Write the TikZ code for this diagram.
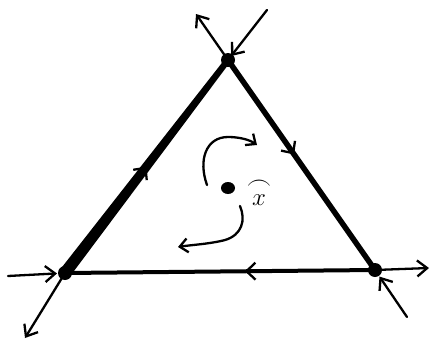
\documentclass[tikz,border=0pt]{standalone}
\usepackage{amsmath}
\usetikzlibrary{arrows.meta,decorations.markings,calc,shapes.geometric}
\begin{document}
\begin{tikzpicture}[x=1pt,y=-1pt,
  ray/.style={line width=2.3pt,line cap=round},
  tip/.style={-{Straight Barb[length=10pt,width=16pt,line width=2.3pt]}},
  midarrow/.style={postaction={decorate},decoration={markings,
     mark=at position #1 with {\arrow[line width=2.3pt]{Straight Barb[length=9pt,width=17pt]}}}},
  vdot/.style={circle,fill=black,inner sep=0pt,minimum size=14pt},
  curv/.style={line width=2.3pt,line cap=round}]
\useasboundingbox (0,0) rectangle (431,340);
\fill[white] (0,0) rectangle (431,340);
% vertices
\coordinate (t) at (228,60);
\coordinate (bl) at (65,273);
\coordinate (br) at (375,270);
% free ends
\coordinate (tout) at (196,14);
\coordinate (tin) at (267,10);
\coordinate (blin) at (8,276);
\coordinate (blout) at (25,338);
\coordinate (brout) at (429,268);
\coordinate (brin) at (407,317);
% left edge, tapered
\fill ($(bl)!6pt!90:(t)$) -- ($(t)!3pt!-90:(bl)$) -- ($(t)!3pt!90:(bl)$) -- ($(bl)!6pt!-90:(t)$) -- cycle;
\path[midarrow=0.5] (bl) -- (t);
% right edge
\draw[line width=5.5pt,midarrow=0.45] (t) -- (br);
% bottom edge
\draw[line width=4pt,midarrow=0.42] (br) -- (bl);
% rays
\draw[ray,tip] (t) -- (tout);
\draw[ray,tip,shorten >=5pt] (tin) -- (t);
\draw[ray,tip,shorten >=8pt] (blin) -- (bl);
\draw[ray,tip] (bl) -- (blout);
\draw[ray,tip] (br) -- (brout);
\draw[ray,tip,shorten >=8pt] (brin) -- (br);
% vertex dots
\node[vdot] (nt) at (t) {};
\node[vdot] (nbl) at (bl) {};
\node[vdot] (nbr) at (br) {};
% centre point
\node[ellipse,fill=black,inner sep=0pt,minimum width=14pt,minimum height=12pt] (p) at (228,188) {};
\node[font=\fontsize{34}{36}\selectfont,inner sep=0pt] (lbl) at (259,192) {$\overset{\frown}{x}$};
% rotation arrows
\draw[curv,-{Straight Barb[length=8pt,width=14pt]}] (207,185) .. controls (198,160) and (206,137) .. (228,137) .. controls (240,137) and (250,140) .. (257,145);
\draw[curv,-{Straight Barb[length=8pt,width=14pt]}] (240,206) .. controls (246,220) and (242,235) .. (225,240) .. controls (210,244) and (190,245) .. (178,247);
\end{tikzpicture}
\end{document}
